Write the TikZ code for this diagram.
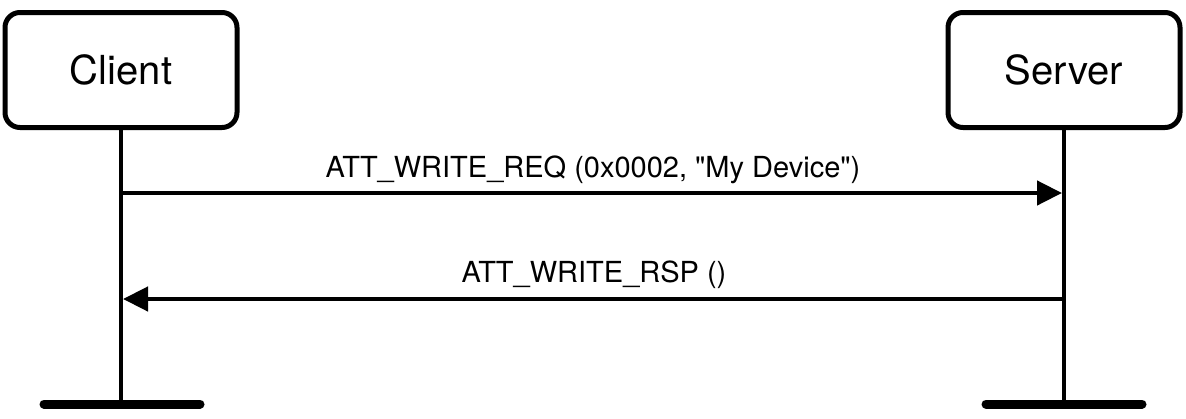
\documentclass[tikz,border=0pt]{standalone}
\usepackage{fontspec}
\setmainfont{TeX Gyre Heros}[Ligatures=TeXOff]
\usetikzlibrary{arrows.meta}
\begin{document}
\begin{tikzpicture}[x=1pt,y=-1pt,
  actor/.style={draw=black,line width=5pt,rounded corners=15pt,minimum width=232pt,minimum height=115pt,inner sep=0pt,font=\fontsize{40pt}{48pt}\selectfont},
  lifeline/.style={line width=4pt},
  endbar/.style={line width=9pt,line cap=round},
  msg/.style={line width=4.5pt,-{Triangle[length=25pt,width=24pt]}},
  msglabel/.style={anchor=base,inner sep=0pt,font=\fontsize{29pt}{35pt}\selectfont}]
\useasboundingbox (0,0) rectangle (1186,418);
\node[actor] (client) at (121,70) {Client};
\node[actor] (server) at (1064,70) {Server};
\coordinate (cend) at (121,404);
\coordinate (send) at (1064,404);
\coordinate (cbl) at (44,404);
\coordinate (cbr) at (200,404);
\coordinate (sbl) at (986,404);
\coordinate (sbr) at (1142,404);
\draw[lifeline] (client.south) -- (cend);
\draw[lifeline] (server.south) -- (send);
\draw[endbar] (cbl) -- (cbr);
\draw[endbar] (sbl) -- (sbr);
\coordinate (c1) at (121,193);
\coordinate (s1) at (1062,193);
\coordinate (s2) at (1064,299);
\coordinate (c2) at (123,299);
\draw[msg] (c1) -- (s1);
\draw[msg] (s2) -- (c2);
\node[msglabel] (l1) at (593,177) {ATT\_WRITE\_REQ (0x0002, "My Device")};
\node[msglabel] (l2) at (594,282) {ATT\_WRITE\_RSP ()};
\end{tikzpicture}
\end{document}
